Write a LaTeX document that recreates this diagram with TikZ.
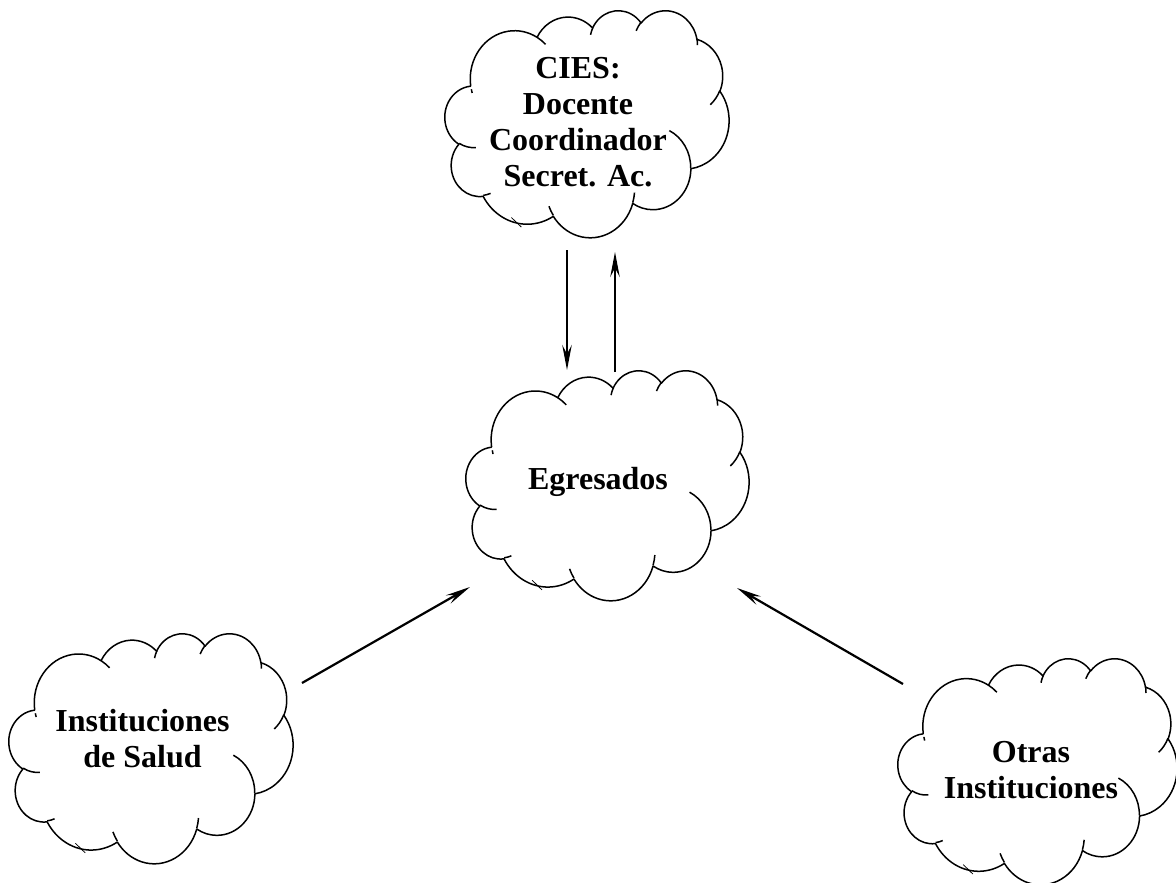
\documentclass[tikz,border=0pt]{standalone}
\usepackage{fontspec}
\setmainfont{Liberation Serif}
\usetikzlibrary{arrows.meta}
\newcommand\cldcalc[4]{%
  \pgfmathsetmacro\cldA{atan2((#1)*sin(#3),(#2)*cos(#3))}%
  \pgfmathsetmacro\cldB{atan2((#1)*sin((#3)+(#4)),(#2)*cos((#3)+(#4)))}%
  \pgfmathsetmacro\cldD{\cldB-\cldA}%
  \pgfmathsetmacro\cldD{\cldD+360*(\cldD<0)}%
  \xdef\cldGA{\cldA}\xdef\cldGD{\cldD}}
\newcommand\carc[4]{\pgfextra{\cldcalc{#1}{#2}{#3}{#4}} arc[x radius=#1, y radius=#2, start angle=\cldGA, delta angle=\cldGD]}
\newcommand\cloudat[4]{%
  \begin{scope}[shift={(#1,#2)}, x=1pt, y=1pt, xscale=#3/432, yscale=-#4/432]
    \draw[cloudline] (39.00,143.70)
      \carc{67.53}{91.90}{-190.4875}{123.7805}
      \carc{53.33}{72.67}{-144.1024}{89.9452}
      \carc{43.65}{59.45}{-145.8079}{99.7230}
      \carc{48.57}{65.95}{-130.9861}{117.2417}
      \carc{53.33}{72.73}{-78.7089}{109.0269}
      \carc{67.75}{92.20}{-46.2673}{130.2690}
      \carc{57.85}{78.67}{0.6250}{114.0333}
      \carc{67.52}{92.15}{22.4516}{115.1726}
      \carc{77.20}{105.43}{66.2426}{75.7110}
      \carc{43.60}{59.18}{-274.9421}{146.7356}
      \carc{43.45}{59.45}{-246.8285}{152.5189}
      -- cycle;
    \draw[cloudline] (46.93,261.77) \carc{43.45}{59.45}{86.7420}{26.4295}
      (69.28,348.99) \carc{43.60}{59.18}{73.6105}{11.4475}
      (164.78,390.90) \carc{67.52}{92.15}{137.6242}{14.0811}
      (288.27,347.51) \carc{67.52}{92.15}{6.4533}{15.9984}
      (341.29,229.54) \carc{57.85}{78.67}{-70.2924}{70.9174}
      (417.98,153.54) \carc{53.33}{72.73}{30.3180}{27.7515}
      (383.24,54.26) \carc{48.57}{65.95}{-13.7443}{14.8589}
      (290.78,39.52) \carc{48.57}{65.95}{-149.1815}{18.1954}
      (221.41,47.20) \carc{43.65}{59.45}{-163.4943}{17.6864}
      (140.00,51.92) \carc{67.53}{91.90}{-66.7070}{12.3194}
      (41.27,157.89) \carc{67.53}{91.90}{160.1009}{5.8981};
    \draw[stubline] (101,395) -- (116,413);
  \end{scope}}
\begin{document}
\begin{tikzpicture}[x=1pt,y=-1pt,
  cloudline/.style={line width=1.5pt, line join=round},
  stubline/.style={line width=0.8pt},
  lbl/.style={align=center, inner sep=0pt, font=\fontsize{32}{36}\selectfont\bfseries},
  arr/.style={line width=2.2pt, -{Stealth[length=25pt,width=9.5pt,inset=9pt]}}]
\useasboundingbox (0,0) rectangle (1176,883);
\cloudat{445}{10}{284}{227}
\cloudat{466}{370}{283}{230}
\cloudat{9}{633}{284}{230}
\cloudat{898}{658}{279}{226}
\node[lbl] (cies) at (578,122) {CIES:\\Docente\\Coordinador\\Secret. Ac.};
\node[lbl] (egr) at (598,482) {Egresados};
\node[lbl] (salud) at (142.5,739) {Instituciones\\de Salud};
\node[lbl] (otras) at (1031,770) {Otras\\Instituciones};
\coordinate (d1) at (567,250);
\coordinate (d2) at (567,370);
\coordinate (u1) at (615,372);
\coordinate (u2) at (615,252);
\coordinate (l1) at (302,683);
\coordinate (l2) at (470,587);
\coordinate (r1) at (903,684);
\coordinate (r2) at (737,588);
\draw[arr] (d1) -- (d2);
\draw[arr] (u1) -- (u2);
\draw[arr] (l1) -- (l2);
\draw[arr] (r1) -- (r2);
\end{tikzpicture}
\end{document}
